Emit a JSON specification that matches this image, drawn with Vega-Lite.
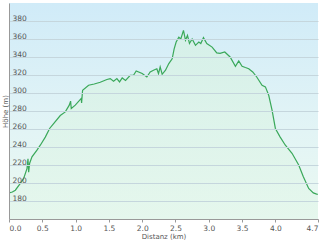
{
  "$schema": "https://vega.github.io/schema/vega-lite/v6.json",
  "width": 309,
  "height": 216,
  "autosize": {"type": "none"},
  "padding": {"left": 9, "top": 3, "right": 2, "bottom": 23},
  "background": "#ffffff",
  "config": {
    "font": "DejaVu Sans",
    "view": {
      "stroke": null,
      "fill": {
        "gradient": "linear", "x1": 0, "y1": 0, "x2": 0, "y2": 1,
        "stops": [
          {"offset": 0, "color": "#d0ebf8"},
          {"offset": 0.5, "color": "#e0f3f6"},
          {"offset": 1, "color": "#ebf9f1"}
        ]
      }
    }
  },
  "data": {
    "values": [
      {"d": 0.00, "h": 189}, {"d": 0.05, "h": 190}, {"d": 0.095, "h": 192}, {"d": 0.17, "h": 199.6},
      {"d": 0.22, "h": 205}, {"d": 0.27, "h": 216}, {"d": 0.285, "h": 227}, {"d": 0.295, "h": 212},
      {"d": 0.31, "h": 222}, {"d": 0.345, "h": 229}, {"d": 0.42, "h": 236.5}, {"d": 0.47, "h": 242},
      {"d": 0.545, "h": 251}, {"d": 0.61, "h": 260.6}, {"d": 0.67, "h": 266}, {"d": 0.77, "h": 275},
      {"d": 0.845, "h": 279}, {"d": 0.905, "h": 286.5}, {"d": 0.925, "h": 291}, {"d": 0.935, "h": 282.8},
      {"d": 0.995, "h": 286.5}, {"d": 1.085, "h": 294}, {"d": 1.09, "h": 289}, {"d": 1.105, "h": 303},
      {"d": 1.195, "h": 308.6}, {"d": 1.28, "h": 310}, {"d": 1.37, "h": 312}, {"d": 1.47, "h": 315},
      {"d": 1.52, "h": 316}, {"d": 1.57, "h": 313}, {"d": 1.62, "h": 316}, {"d": 1.66, "h": 312.3},
      {"d": 1.70, "h": 316.7}, {"d": 1.75, "h": 314}, {"d": 1.82, "h": 319.7}, {"d": 1.87, "h": 319.7},
      {"d": 1.91, "h": 324.5}, {"d": 2.00, "h": 321.6}, {"d": 2.07, "h": 317.8}, {"d": 2.12, "h": 323.4},
      {"d": 2.17, "h": 325.3}, {"d": 2.22, "h": 327}, {"d": 2.245, "h": 321.6}, {"d": 2.27, "h": 329},
      {"d": 2.30, "h": 320.8}, {"d": 2.35, "h": 325.3}, {"d": 2.40, "h": 332.7}, {"d": 2.45, "h": 338},
      {"d": 2.48, "h": 349}, {"d": 2.51, "h": 356.7}, {"d": 2.55, "h": 362}, {"d": 2.58, "h": 360},
      {"d": 2.62, "h": 369.6}, {"d": 2.65, "h": 358.6}, {"d": 2.68, "h": 364}, {"d": 2.71, "h": 355},
      {"d": 2.75, "h": 360}, {"d": 2.80, "h": 353}, {"d": 2.85, "h": 356.7}, {"d": 2.88, "h": 355},
      {"d": 2.92, "h": 361.5}, {"d": 2.97, "h": 355}, {"d": 3.05, "h": 351}, {"d": 3.12, "h": 344.5},
      {"d": 3.17, "h": 344}, {"d": 3.24, "h": 345.6}, {"d": 3.32, "h": 340}, {"d": 3.40, "h": 329.7},
      {"d": 3.45, "h": 335.6}, {"d": 3.50, "h": 329.7}, {"d": 3.55, "h": 328.3}, {"d": 3.60, "h": 327},
      {"d": 3.66, "h": 323.4}, {"d": 3.72, "h": 317.8}, {"d": 3.80, "h": 308.6}, {"d": 3.85, "h": 306.8},
      {"d": 3.90, "h": 297.5}, {"d": 3.95, "h": 281}, {"d": 4.00, "h": 260.6}, {"d": 4.07, "h": 251.3},
      {"d": 4.15, "h": 242}, {"d": 4.25, "h": 233}, {"d": 4.35, "h": 220}, {"d": 4.42, "h": 207},
      {"d": 4.50, "h": 194}, {"d": 4.57, "h": 189}, {"d": 4.62, "h": 187.7}, {"d": 4.64, "h": 187.5}
    ]
  },
  "mark": {
    "type": "area",
    "clip": true,
    "color": {
      "gradient": "linear", "x1": 0, "y1": 0, "x2": 0, "y2": 1,
      "stops": [
        {"offset": 0, "color": "#d6f1e2"},
        {"offset": 1, "color": "#ecfaf2"}
      ]
    },
    "line": {"color": "#3aa85a", "strokeWidth": 1.2}
  },
  "encoding": {
    "x": {
      "field": "d", "type": "quantitative",
      "scale": {"domain": [0, 4.64], "nice": false, "zero": false},
      "axis": {
        "title": "Distanz  (km)",
        "titleFont": "DejaVu Sans", "titleFontSize": 7, "titleFontWeight": "normal", "titleColor": "#555555",
        "titlePadding": 1,
        "values": [0, 0.5, 1, 1.5, 2, 2.5, 3, 3.5, 4, 4.64],
        "labelExpr": "datum.value > 4.5 ? '4.7' : format(datum.value, '.1f')",
        "labelFlush": true, "labelFontSize": 7.5, "labelColor": "#555555", "labelPadding": 2,
        "grid": false, "domainColor": "#999999", "tickColor": "#999999", "tickSize": 3,
        "zindex": 1
      }
    },
    "y": {
      "field": "h", "type": "quantitative",
      "scale": {"domain": [160, 400], "nice": false, "zero": false},
      "axis": {
        "title": "Höhe (m)",
        "titleFont": "DejaVu Sans", "titleFontSize": 7, "titleFontWeight": "normal", "titleColor": "#555555",
        "titleX": -4, "titleY": 108, "titleAngle": -90, "titleBaseline": "middle",
        "values": [180, 200, 220, 240, 260, 280, 300, 320, 340, 360, 380],
        "labelAlign": "left", "labelBaseline": "alphabetic", "labelPadding": -3, "labelOffset": -1,
        "labelFontSize": 7.5, "labelColor": "#555555",
        "ticks": false, "grid": true, "gridColor": "#c5d6dd", "gridWidth": 1,
        "domainColor": "#999999", "zindex": 1
      }
    }
  }
}
